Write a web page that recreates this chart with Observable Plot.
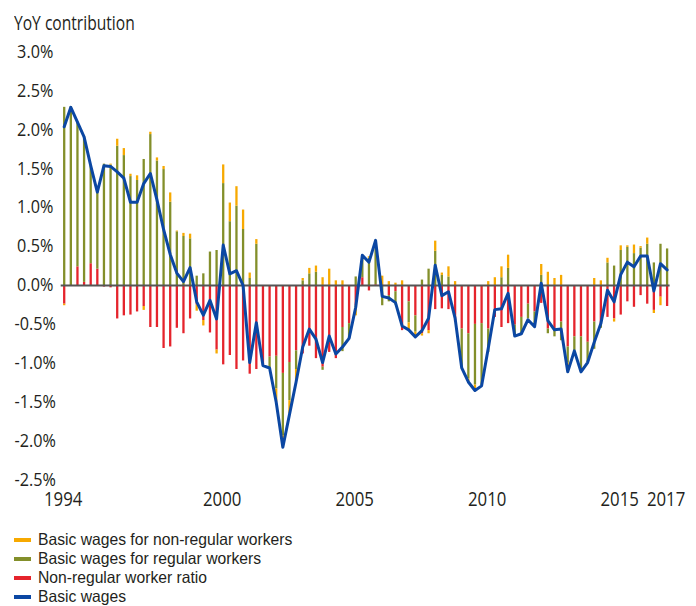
<!DOCTYPE html>
<html><head><meta charset="utf-8">
<script src="https://cdn.jsdelivr.net/npm/d3@7"></script>
<script src="https://cdn.jsdelivr.net/npm/@observablehq/plot@0.6"></script>
<style>
body{margin:0;background:#fff;font-family:"Open Sans",sans-serif;color:#231f20}
#wrap{position:relative;width:696px;height:606px;overflow:hidden}
#chart{position:absolute;left:0;top:0}
#title{position:absolute;left:14px;top:12px;font-size:20px;line-height:22px;white-space:nowrap;transform:scaleX(0.78);transform-origin:0 0}
#legend{position:absolute;left:14px;top:530px;font-size:16.5px;font-family:"Liberation Sans",Arial,sans-serif}
.item{display:flex;align-items:center;height:19px;white-space:nowrap}
.sw{width:17px;height:4px;margin-right:7px;flex:none}
.tx{display:inline-block;line-height:17px;transform:scaleX(0.95);transform-origin:0 50%}
</style></head>
<body><div id="wrap"><div id="chart"></div><div id="title">YoY contribution</div><div id="legend"></div></div>
<script>
const startYear = 1994;
// quarterly YoY contributions, 1994 Q1 - 2016 Q4 (%)
const ratio = [-0.24,-0.01,0.24,0.04,0.28,0.21,-0.02,-0.03,-0.43,-0.39,
-0.38,-0.34,-0.27,-0.54,-0.54,-0.81,-0.79,-0.55,-0.62,-0.43,
-0.25,-0.45,-0.61,-0.83,-1.02,-0.90,-1.08,-0.97,-1.14,-1.08,
-1.03,-0.92,-0.91,-1.13,-0.99,-0.84,-0.88,-0.78,-0.94,-1.05,
-0.86,-0.94,-0.54,-0.49,-0.26,0.10,-0.07,0.01,0.00,-0.13,
-0.08,-0.58,-0.21,-0.39,-0.62,-0.58,-0.31,-0.30,-0.31,-0.47,
-0.56,-0.62,-0.50,-0.49,-0.56,-0.41,-0.54,-0.49,-0.51,-0.41,
-0.24,-0.34,-0.23,-0.56,-0.58,-0.47,-0.79,-0.66,-0.66,-0.73,
-0.47,-0.50,-0.41,-0.43,-0.38,-0.21,-0.28,-0.13,-0.24,-0.32,
-0.15,-0.27];
const regular = [2.29,2.30,1.86,1.87,1.26,0.99,1.56,1.55,1.79,1.67,
1.40,1.35,1.62,1.94,1.60,1.49,1.07,0.69,0.63,0.60,
0.12,0.15,0.43,0.45,1.31,0.82,1.02,0.72,0.09,0.53,
0.00,-0.14,-0.42,-0.80,-0.49,-0.24,0.06,0.15,0.17,-0.04,
0.00,0.00,-0.31,-0.19,0.11,0.27,0.35,0.57,-0.26,-0.08,
-0.17,0.00,-0.27,-0.21,0.07,0.21,0.44,0.13,0.11,0.00,
-0.49,-0.58,-0.78,-0.80,-0.30,0.00,0.10,0.22,-0.13,-0.21,
-0.19,-0.19,0.13,-0.06,-0.08,-0.24,-0.21,-0.18,-0.45,-0.26,
-0.35,-0.05,0.29,0.25,0.45,0.49,0.41,0.48,0.53,0.29,
0.53,0.47];
const nonRegular = [-0.02,0,0,0,0,0,0,0.01,0.09,0.09,
0.03,0.06,-0.05,0.03,0.04,0.04,0.12,0.01,0.04,0.06,
-0.08,-0.07,0,-0.05,0.24,0.24,0.25,0.25,0.07,0.06,
0,0,-0.17,-0.15,-0.17,-0.15,0.03,0.07,0.08,0.10,
0.21,0.06,0.06,0,-0.13,0.02,0.02,0,0.12,0.05,
0.03,0.06,-0.09,-0.06,-0.03,-0.04,0.13,0.03,0.13,0.05,
0,-0.04,-0.07,0,0.05,0.10,0.14,0.17,0,0,
0,0,0.14,0.17,0.09,0.13,-0.11,0,0,0,
0.09,0.06,0.06,-0.04,0.06,0.02,0.11,0.02,0.08,-0.04,
-0.11,0];
const basicWages = [2.04,2.29,2.10,1.91,1.54,1.20,1.54,1.53,1.46,1.38,
1.07,1.07,1.31,1.44,1.10,0.72,0.40,0.16,0.05,0.23,
-0.21,-0.38,-0.19,-0.43,0.52,0.15,0.19,0.00,-0.99,-0.48,
-1.03,-1.06,-1.50,-2.08,-1.66,-1.24,-0.79,-0.56,-0.69,-0.99,
-0.65,-0.88,-0.79,-0.68,-0.28,0.39,0.30,0.58,-0.14,-0.16,
-0.22,-0.52,-0.57,-0.66,-0.58,-0.42,0.26,-0.13,-0.08,-0.42,
-1.06,-1.24,-1.35,-1.29,-0.81,-0.31,-0.30,-0.10,-0.65,-0.62,
-0.44,-0.53,0.03,-0.45,-0.57,-0.56,-1.11,-0.84,-1.11,-0.99,
-0.73,-0.49,-0.06,-0.21,0.14,0.30,0.24,0.38,0.38,-0.07,
0.28,0.20];

const barSeries = ["Non-regular worker ratio","Basic wages for regular workers","Basic wages for non-regular workers"];
const barColors = ["#e5242c","#838f2a","#f7a900"];
const lineName = "Basic wages";
const lineColor = "#0b47a3";
const legendNames = ["Basic wages for non-regular workers","Basic wages for regular workers","Non-regular worker ratio","Basic wages"];
const legendColors = ["#f7a900","#838f2a","#e5242c","#0b47a3"];
const yTicks = [-2.5,-2.0,-1.5,-1.0,-0.5,0.0,0.5,1.0,1.5,2.0,2.5,3.0];
const xTickLabels = ["1994","2000","2005","2010","2015","2017"];

const n = basicWages.length;
const tOf = i => startYear + i / 4;
const barSrc = [ratio, regular, nonRegular];
const bars = [];
for (let i = 0; i < n; i++) {
  barSrc.forEach((arr, k) => bars.push({t: tOf(i), series: barSeries[k], value: arr[i]}));
}
const lineData = basicWages.map((v, i) => ({t: tOf(i), v}));
const xTickPos = xTickLabels.map(l => tOf(Math.min((+l - startYear) * 4, n - 1)));

const W = 696, H = 525, mL = 63.7, mR = 29.4, mT = 51.6, mB = 45.5;
const font = '"Open Sans",sans-serif';
const yFont = 18, xFont = 20, yStretch = 0.9, xStretch = 0.84;

const chart = Plot.plot({
  width: W, height: H,
  marginLeft: mL, marginRight: mR, marginTop: mT, marginBottom: mB,
  style: {fontFamily: font, color: "#231f20", background: "transparent", overflow: "visible"},
  x: {domain: [tOf(0), tOf(n - 1)], axis: null},
  y: {domain: [-2.5, 3.0], axis: null},
  color: {domain: barSeries, range: barColors},
  marks: [
    Plot.ruleX(bars, Plot.stackY({x: "t", y: "value", stroke: "series", strokeWidth: 2.3, order: null})),
    Plot.ruleY([0], {stroke: "#555", strokeWidth: 2.2, insetLeft: -3, insetRight: -3}),
    Plot.line(lineData, {x: "t", y: "v", stroke: lineColor, strokeWidth: 3, strokeLinejoin: "round"}),
    Plot.text(yTicks, {y: d => d, text: d => d.toFixed(1) + "%", frameAnchor: "left", dx: -29, textAnchor: "middle", fontSize: yFont, fill: "#231f20"}),
    Plot.text(xTickLabels, {x: (d, i) => xTickPos[i], text: d => d, frameAnchor: "bottom", dy: 26, dx: -1, fontSize: xFont, fill: "#231f20"})
  ]
});
document.getElementById("chart").appendChild(chart);

// horizontally condense tick labels to match the narrow typeface of the original
d3.select(chart).selectAll('g[aria-label="text"]').each(function () {
  const fs = +this.getAttribute("font-size");
  const s = fs === yFont ? yStretch : xStretch;
  d3.select(this).selectAll("text").each(function () {
    const tr = this.getAttribute("transform");
    if (tr) {
      this.setAttribute("transform", tr + ` scale(${s},1)`);
    } else {
      const x = +this.getAttribute("x") || 0, y = +this.getAttribute("y") || 0;
      this.removeAttribute("x"); this.removeAttribute("y");
      this.setAttribute("transform", `translate(${x},${y}) scale(${s},1)`);
    }
  });
});

const leg = document.getElementById("legend");
legendNames.forEach((name, i) => {
  const row = document.createElement("div");
  row.className = "item";
  const sw = document.createElement("span");
  sw.className = "sw";
  sw.style.background = legendColors[i];
  const tx = document.createElement("span");
  tx.className = "tx";
  tx.textContent = name;
  row.appendChild(sw); row.appendChild(tx);
  leg.appendChild(row);
});
</script>
</body></html>
